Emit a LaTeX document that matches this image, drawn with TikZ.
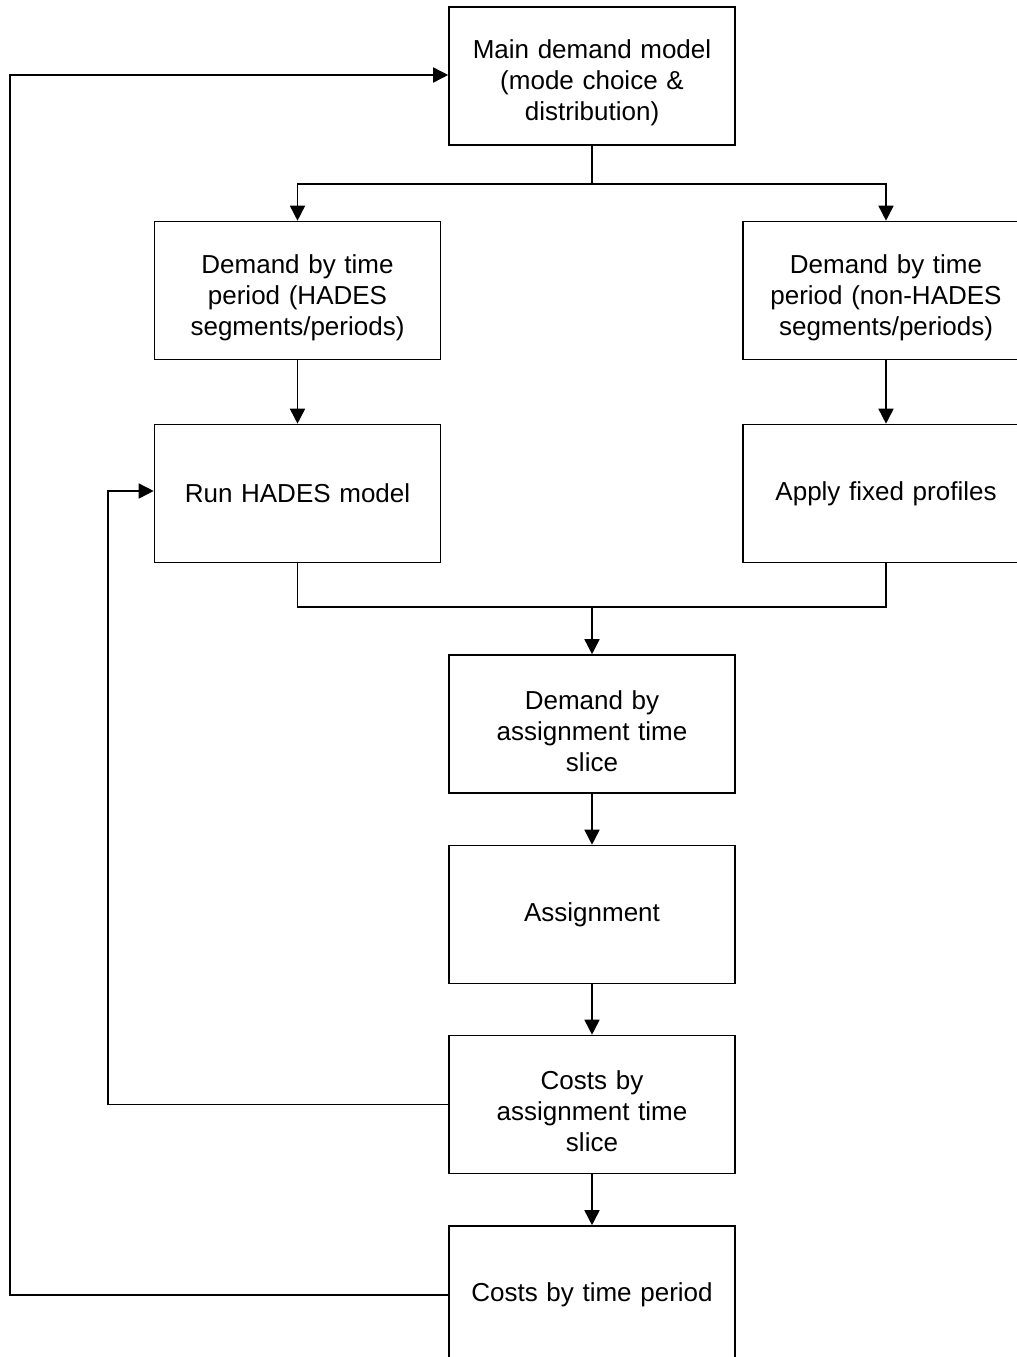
\documentclass[tikz,border=0pt]{standalone}
\usepackage{fontspec}
\setmainfont{Liberation Sans}
\usetikzlibrary{arrows.meta}
\newcommand{\dnshift}{\rule{0pt}{33pt}}
\begin{document}
\begin{tikzpicture}[x=1pt,y=-1pt,
  box/.style={draw,line width=1.6pt,minimum width=286pt,minimum height=138pt,inner sep=0pt,
    align=center,font=\fontsize{26pt}{31pt}\selectfont,text width=280pt},
  conn/.style={line width=1.6pt},
  arr/.style={conn,-{Triangle[length=15pt,width=15pt]}}]
\useasboundingbox (0,0) rectangle (1017,1357);
\clip (0,0) rectangle (1017,1357);
\node[box] (main) at (592,76) {\dnshift Main demand model\\(mode choice \&\\distribution)};
\node[box] (dl) at (297.5,290.5) {\dnshift Demand by time\\period (HADES\\segments/periods)};
\node[box] (dr) at (886,290.5) {\dnshift Demand by time\\period (non-HADES\\segments/periods)};
\node[box] (hades) at (297.5,493.5) {Run HADES model};
\node[box] (fixed) at (886,493.5) {Apply fixed profiles};
\node[box] (das) at (592,724) {\dnshift Demand by\\assignment time\\slice};
\node[box] (asg) at (592,914.5) {Assignment};
\node[box] (cas) at (592,1104.5) {\dnshift Costs by\\assignment time\\slice};
\node[box] (ctp) at (592,1295) {Costs by time period};
\coordinate (split) at (592,184);
\coordinate (join) at (592,607);
\draw[conn] (main.south) -- (split);
\draw[arr] (split) -| (dl.north);
\draw[arr] (split) -| (dr.north);
\draw[arr] (dl) -- (hades);
\draw[arr] (dr) -- (fixed);
\draw[conn] (hades.south) |- (join);
\draw[conn] (fixed.south) |- (join);
\draw[arr] (join) -- (das.north);
\draw[arr] (das) -- (asg);
\draw[arr] (asg) -- (cas);
\draw[arr] (cas) -- (ctp);
\draw[arr] (cas.west) -- (108,1104.5) |- (hades.west |- 0,491);
\draw[arr] (ctp.west) -- (10,1295) |- (main.west |- 0,75);
\end{tikzpicture}
\end{document}
